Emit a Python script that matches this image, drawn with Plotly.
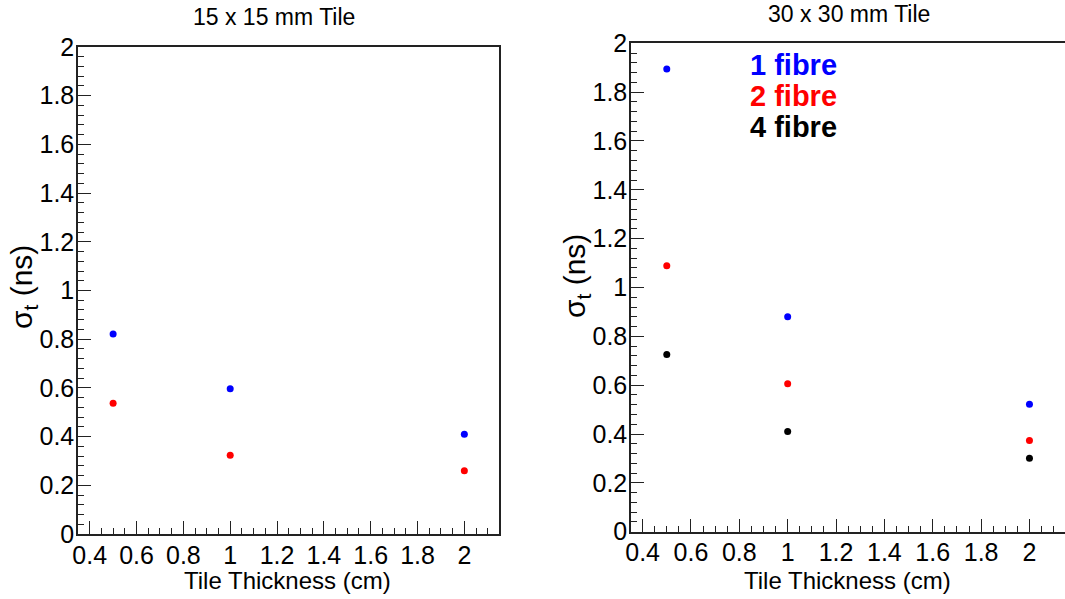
import plotly.graph_objects as go

# ---- data ----
thickness = [0.5, 1.0, 2.0]
small_1fibre = [0.821, 0.596, 0.410]
small_2fibre = [0.537, 0.323, 0.260]
large_1fibre = [1.895, 0.880, 0.522]
large_2fibre = [1.089, 0.606, 0.373]
large_4fibre = [0.726, 0.410, 0.301]

x_tickvals = [0.4, 0.6, 0.8, 1.0, 1.2, 1.4, 1.6, 1.8, 2.0]
x_ticktext = ["0.4", "0.6", "0.8", "1", "1.2", "1.4", "1.6", "1.8", "2"]
y_tickvals = [0, 0.2, 0.4, 0.6, 0.8, 1.0, 1.2, 1.4, 1.6, 1.8, 2.0]
y_ticktext = ["0", "0.2", "0.4", "0.6", "0.8", "1", "1.2", "1.4", "1.6", "1.8", "2"]

titles = ["15 x 15 mm Tile", "30 x 30 mm Tile"]
legend_labels = ["1 fibre", "2 fibre", "4 fibre"]
colors = ["#0000ff", "#ff0000", "#000000"]

W, H = 1065, 599
FONT = "Liberation Sans, Arial, Helvetica, sans-serif"

fig = go.Figure()

def add(x, y, color, xa, ya):
    fig.add_trace(go.Scatter(x=x, y=y, mode="markers", xaxis=xa, yaxis=ya,
                             marker=dict(color=color, size=7, line=dict(width=0)),
                             showlegend=False))

add(thickness, small_1fibre, colors[0], "x", "y")
add(thickness, small_2fibre, colors[1], "x", "y")
add(thickness, large_1fibre, colors[0], "x2", "y2")
add(thickness, large_2fibre, colors[1], "x2", "y2")
add(thickness, large_4fibre, colors[2], "x2", "y2")

def px_x(p):
    return p / W

def px_y(p):
    return 1 - p / H

axis_common = dict(showgrid=False, zeroline=False, showline=True, linecolor="#222222",
                   linewidth=1.5, ticks="inside", ticklen=13, tickwidth=1.2,
                   tickcolor="#222222", automargin=False,
                   tickfont=dict(family=FONT, size=25, color="black"))

xcommon = dict(axis_common, tickvals=x_tickvals, ticktext=x_ticktext,
               ticklabelstandoff=-2,
               minor=dict(ticks="inside", ticklen=6, dtick=0.05, tick0=0.0,
                          tickcolor="#222222", tickwidth=1.2, showgrid=False))
ycommon = dict(axis_common, tickvals=y_tickvals, ticktext=y_ticktext, range=[0, 2],
               ticklabelstandoff=-3,
               minor=dict(ticks="inside", ticklen=6, dtick=0.04, tick0=0.0,
                          tickcolor="#222222", tickwidth=1.2, showgrid=False))

fig.update_layout(
    width=W, height=H,
    margin=dict(l=0, r=0, t=0, b=0, pad=0, autoexpand=False),
    paper_bgcolor="white", plot_bgcolor="white",
    font=dict(family=FONT, color="black"),
    xaxis=dict(xcommon, domain=[px_x(78), px_x(499)], range=[0.35, 2.148],
               anchor="y", mirror=True),
    yaxis=dict(ycommon, domain=[px_y(534), px_y(47)], anchor="x", mirror=True),
    xaxis2=dict(xcommon, domain=[px_x(631), 1.0], range=[0.352, 2.147],
                anchor="y2", mirror=True),
    yaxis2=dict(ycommon, domain=[px_y(531.7), px_y(43.3)], anchor="x2", mirror=False),
)

def note(text, cx, cy, size, color="black", angle=0, xanchor="center"):
    return dict(text=text, x=px_x(cx), y=px_y(cy), xref="paper", yref="paper",
                xanchor=xanchor, yanchor="middle", showarrow=False, textangle=angle,
                font=dict(family=FONT, size=size, color=color))

ann = []
ann.append(note(titles[0], 274, 17, 23))
ann.append(note(titles[1], 849, 14, 23))
for cx in (287, 847):
    ann.append(note("Tile Thickness (cm)", cx, 580, 24))
for cx, cy in ((23, 287), (577, 276)):
    ann.append(note("σ<sub>t</sub> (ns)", cx, cy, 30, angle=-90))
for lbl, col, cy in zip(legend_labels, colors, (65, 96, 127)):
    ann.append(note("<b>" + lbl + "</b>", 748, cy, 29, color=col, xanchor="left"))

fig.update_layout(annotations=ann)

fig.write_html("out.html")
